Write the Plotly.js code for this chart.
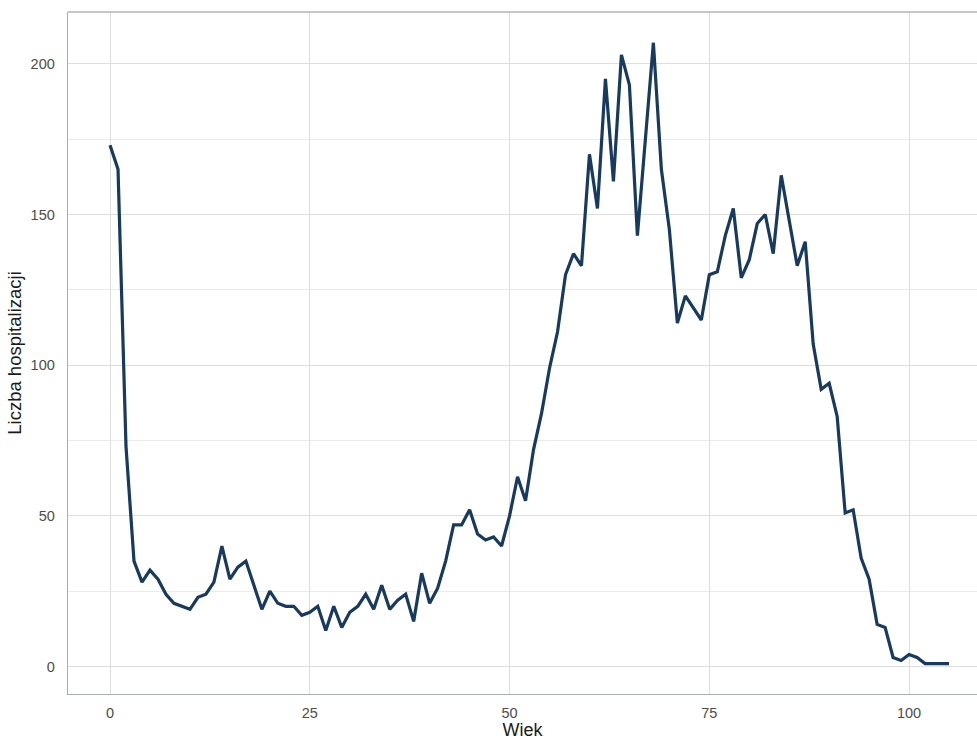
<!DOCTYPE html>
<html>
<head>
<meta charset="utf-8">
<script src="https://cdn.plot.ly/plotly-3.0.1.min.js"></script>
<style>html,body{margin:0;padding:0;background:#fff;}#chart{width:977px;height:740px;}</style>
</head>
<body>
<div id="chart"></div>
<script>
const ages = [];
for (let a = 0; a <= 105; a++) ages.push(a);
const hospitalizations = [
  173, 165, 73, 35, 28, 32, 29, 24, 21, 20,
  19, 23, 24, 28, 40, 29, 33, 35, 27, 19,
  25, 21, 20, 20, 17, 18, 20, 12, 20, 13,
  18, 20, 24, 19, 27, 19, 22, 24, 15, 31,
  21, 26, 35, 47, 47, 52, 44, 42, 43, 40,
  50, 63, 55, 72, 84, 99, 111, 130, 137, 133,
  170, 152, 195, 161, 203, 193, 143, 175, 207, 165,
  145, 114, 123, 119, 115, 130, 131, 143, 152, 129,
  135, 147, 150, 137, 163, 148, 133, 141, 107, 92,
  94, 83, 51, 52, 36, 29, 14, 13, 3, 2,
  4, 3, 1, 1, 1, 1
];
const xTicks = [0, 25, 50, 75, 100];
const yTicks = [0, 50, 100, 150, 200];

const trace = {
  x: ages, y: hospitalizations, type: 'scatter', mode: 'lines',
  line: {color: '#173a5e', width: 3.2},
  hoverinfo: 'x+y'
};
const layout = {
  width: 977, height: 740,
  margin: {l: 68, r: 0, t: 11.5, b: 46.3},
  paper_bgcolor: '#ffffff', plot_bgcolor: '#ffffff',
  font: {family: 'Liberation Sans, Arial, sans-serif', color: '#4d4d4d', size: 14.5},
  showlegend: false,
  xaxis: {
    range: [-5.26, 108.5],
    tickvals: xTicks, ticktext: xTicks.map(String),
    showgrid: true, gridcolor: '#dedede', gridwidth: 1,
    zeroline: false, showline: true, linecolor: '#a7aeae', linewidth: 1.3,
    ticks: '', ticklabelstandoff: 5,
    tickfont: {size: 14.5, color: '#4d4d4d'},
    title: {text: 'Wiek', font: {size: 18, color: '#1a1a1a'}, standoff: 4}
  },
  yaxis: {
    range: [-9.1, 217.2],
    tickvals: yTicks, ticktext: yTicks.map(String),
    showgrid: true, gridcolor: '#dedede', gridwidth: 1,
    minor: {dtick: 25, tick0: 0, showgrid: true, gridcolor: '#e6e6e6', gridwidth: 0.8},
    zeroline: false, showline: true, linecolor: '#a7aeae', linewidth: 1.3,
    ticks: '', ticklabelstandoff: 9,
    tickfont: {size: 14.5, color: '#4d4d4d'},
    title: {text: 'Liczba hospitalizacji', font: {size: 18.5, color: '#1a1a1a'}, standoff: 4}
  },
  shapes: [{
    type: 'line', xref: 'paper', yref: 'paper', x0: 0, x1: 1, y0: 1, y1: 1,
    line: {color: '#b3b3b3', width: 1.3}
  }]
};
Plotly.newPlot('chart', [trace], layout, {displayModeBar: false, staticPlot: true});
</script>
</body>
</html>
